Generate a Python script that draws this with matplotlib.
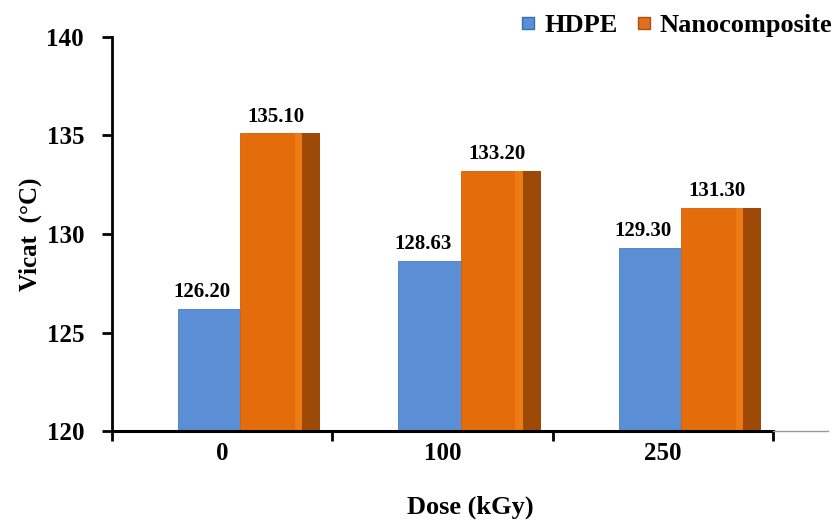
import matplotlib
matplotlib.use("Agg")
import matplotlib.pyplot as plt
from matplotlib.lines import Line2D

categories = ["0", "100", "250"]
hdpe = [126.20, 128.63, 129.30]
nano = [135.10, 133.20, 131.30]
hdpe_labels = ["126.20", "128.63", "129.30"]
nano_labels = ["135.10", "133.20", "131.30"]
yticks = [120, 125, 130, 135, 140]

plt.rcParams['font.family'] = ['Liberation Serif', 'DejaVu Serif']
plt.rcParams['font.weight'] = 'bold'

fig = plt.figure(figsize=(8.35, 5.2), dpi=100)
ax = fig.add_axes([0.134, 0.171, 0.858, 0.758])

base = 120
x = list(range(len(categories)))
blue = "#5A8FD6"
orange = "#E46C0A"
side = "#9E4A06"
for i in x:
    ax.bar(i - 0.2, hdpe[i] - base, width=0.282, bottom=base, align='edge',
           color=blue, edgecolor='#4A7BC0', linewidth=0.6, zorder=2)
    ax.bar(i + 0.082, nano[i] - base, width=0.282, bottom=base, align='edge',
           color=orange, edgecolor='#D0600A', linewidth=0.6, zorder=2)
    ax.bar(i + 0.33, nano[i] - base, width=0.034, bottom=base, align='edge',
           color='#EE7A16', linewidth=0, zorder=3)
    ax.bar(i + 0.364, nano[i] - base, width=0.081, bottom=base, align='edge',
           color=side, linewidth=0, zorder=2)
    ax.text(i - 0.09, hdpe[i] + 0.35, hdpe_labels[i], ha='center', va='bottom',
            fontsize=15, fontweight='bold')
    ax.text(i + 0.245, nano[i] + 0.35, nano_labels[i], ha='center', va='bottom',
            fontsize=15, fontweight='bold')

ax.set_xlim(-0.5, 2.75)
ax.set_ylim(120, 140)
ax.set_yticks(yticks)
ax.set_yticklabels([str(t) for t in yticks], fontsize=18, fontweight='bold')
ax.set_xticks([-0.5, 0.5, 1.5, 2.5])
ax.set_xticklabels([])
ax.set_xticks(x, minor=True)
ax.set_xticklabels(categories, minor=True, fontsize=18, fontweight='bold')
ax.tick_params(axis='x', which='minor', length=0, pad=8)
ax.tick_params(axis='x', which='major', length=7, width=2, direction='out')
ax.tick_params(axis='y', length=7, width=2, direction='out', pad=13)

for s in ['top', 'right', 'bottom']:
    ax.spines[s].set_visible(False)
ax.spines['left'].set_linewidth(2)
ax.plot([-0.5, 2.5], [120, 120], color='black', linewidth=2.2, clip_on=False, zorder=5)
ax.plot([2.5, 2.75], [120, 120], color='#999999', linewidth=1, clip_on=False, zorder=5)

ax.set_ylabel("Vicat  (°C)", fontsize=18, fontweight='bold', labelpad=3)
ax.set_xlabel("Dose (kGy)", fontsize=19, fontweight='bold', labelpad=22)

handles = [Line2D([], [], marker='s', linestyle='none', markersize=8,
                  markerfacecolor=blue, markeredgecolor='#3A6AB0'),
           Line2D([], [], marker='s', linestyle='none', markersize=8,
                  markerfacecolor='#E07020', markeredgecolor='#B05010')]
fig.legend(handles, ["HDPE", "Nanocomposite"], loc='upper right',
           bbox_to_anchor=(1.025, 1.02), ncol=2, frameon=False,
           prop={'size': 19, 'weight': 'bold'}, handletextpad=0.2,
           columnspacing=0.6, handlelength=0.8)

fig.savefig("out.png", dpi=100)
